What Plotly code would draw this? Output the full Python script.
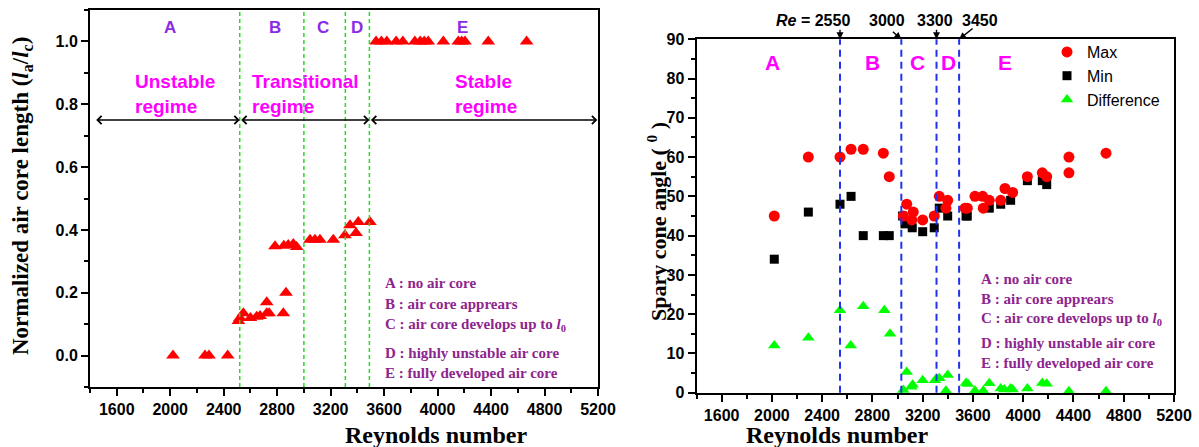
import plotly.graph_objects as go

# ---------------- Left chart data: normalized air core length ----------------
re_len = [2021, 2260, 2290, 2430,
          2510, 2522, 2547, 2600, 2647, 2672, 2722, 2722, 2740, 2846, 2866,
          2784, 2850, 2883, 2921, 2946,
          3046, 3083, 3120, 3220, 3307, 3345, 3390, 3407, 3494,
          3540, 3580, 3620, 3690, 3740, 3830, 3870, 3900, 3930, 4043, 4155, 4180, 4205, 4379, 4666]
len_ratio = [0.0, 0.0, 0.0, 0.0,
             0.11, 0.12, 0.135, 0.12, 0.124, 0.126, 0.135, 0.17, 0.135, 0.135, 0.20,
             0.348, 0.35, 0.352, 0.355, 0.346,
             0.369, 0.369, 0.369, 0.369, 0.383, 0.415, 0.39, 0.425, 0.425,
             1.0, 1.0, 1.0, 1.0, 1.0, 1.0, 1.0, 1.0, 1.0, 1.0, 1.0, 1.0, 1.0, 1.0, 1.0]
left_region_lines = [2520, 3000, 3310, 3490]
left_letters = ["A", "B", "C", "D", "E"]
left_letter_re = [1998, 2784, 3143, 3397, 4183]

# ---------------- Right chart data: spray cone angle ----------------
re_max = [2019, 2290, 2542, 2630, 2727, 2887, 2934, 3046, 3073, 3113, 3125, 3200, 3292,
          3332, 3385, 3399, 3537, 3555, 3616, 3677, 3682, 3730, 3821, 3855, 3916,
          4033, 4152, 4187, 4364, 4364, 4659]
ang_max = [45, 60, 60, 62, 62, 61, 55, 45, 48, 44, 46, 44, 45,
           50, 47, 49, 47, 47, 50, 50, 47, 49, 49, 52, 51,
           55, 56, 55, 60, 56, 61]
re_min = [2019, 2290, 2542, 2630, 2727, 2887, 2934, 3040, 3059, 3117, 3200, 3292,
          3332, 3399, 3545, 3555, 3730, 3821, 3900, 4033, 4152, 4187]
ang_min = [34, 46, 48, 50, 40, 40, 40, 45, 43, 42, 41, 42,
           47, 45, 45, 45, 47, 48, 49, 54, 54, 53]
re_diff = [2019, 2290, 2542, 2627, 2727, 2895, 2940, 3046, 3073, 3110, 3120, 3200, 3298,
           3332, 3385, 3399, 3545, 3560, 3616, 3682, 3730, 3821, 3850, 3900, 3916,
           4033, 4152, 4187, 4364, 4659]
ang_diff = [12, 14, 21, 12, 22, 21, 15, 0.7, 5.3, 1.5, 2.0, 3.2, 3.2,
            3.7, 0.5, 4.5, 2.5, 2.2, 0.5, 0.5, 2.4, 1.1, 0.8, 1.1, 0.8,
            1.1, 2.5, 2.3, 0.4, 0.4]
right_region_lines = [2542, 3030, 3310, 3490]
right_line_labels = ["<i>Re</i> = 2550", "3000", "3300", "3450"]
right_label_re = [2327, 2913, 3298, 3656]
right_letters = ["A", "B", "C", "D", "E"]
right_letter_re = [2008, 2804, 3160, 3404, 3855]

notes = ["A : no air core", "B : air core apprears",
         "C : air core develops up to <i>l</i><sub>0</sub>",
         "D : highly unstable air core", "E : fully developed air core"]

ARIAL = "Arial, Liberation Sans, sans-serif"
TIMES = "Times New Roman, Liberation Serif, serif"
W, H = 1199, 447

fig = go.Figure()
fig.add_trace(go.Scatter(x=re_len, y=len_ratio, mode="markers", xaxis="x", yaxis="y",
                         marker=dict(symbol="triangle-up", size=12, color="#FF0000"),
                         showlegend=False, cliponaxis=False))
fig.add_trace(go.Scatter(x=re_min, y=ang_min, mode="markers", xaxis="x2", yaxis="y2",
                         name="Min", legendrank=2,
                         marker=dict(symbol="square", size=9, color="#000000"), cliponaxis=False))
fig.add_trace(go.Scatter(x=re_max, y=ang_max, mode="markers", xaxis="x2", yaxis="y2",
                         name="Max", legendrank=1,
                         marker=dict(symbol="circle", size=11, color="#FF0000"), cliponaxis=False))
fig.add_trace(go.Scatter(x=re_diff, y=ang_diff, mode="markers", xaxis="x2", yaxis="y2",
                         name="Difference", legendrank=3,
                         marker=dict(symbol="triangle-up", size=11, color="#00FF00"), cliponaxis=False))

axis_common = dict(showline=True, linecolor="black", linewidth=2, mirror=True,
                   ticks="outside", ticklen=7, tickwidth=2, tickcolor="black",
                   showgrid=False, zeroline=False, automargin=False,
                   tickfont=dict(family=ARIAL, size=16, color="black", weight="bold"))

def px_x(p):
    return p / W

def px_y(p):
    return 1 - p / H

fig.update_layout(
    width=W, height=H, margin=dict(l=0, r=0, t=0, b=0, autoexpand=False),
    paper_bgcolor="white", plot_bgcolor="white",
    xaxis=dict(domain=[px_x(90), px_x(598)], range=[1400, 5200], dtick=400, anchor="y",
               minor=dict(dtick=200, ticks="outside", ticklen=4, tickwidth=2, tickcolor="black"),
               **axis_common),
    yaxis=dict(domain=[px_y(387), px_y(10)], range=[-0.1, 1.1], dtick=0.2, tick0=0,
               tickformat=".1f", anchor="x",
               minor=dict(dtick=0.1, ticks="outside", ticklen=4, tickwidth=2, tickcolor="black"),
               **axis_common),
    xaxis2=dict(domain=[px_x(696.5), px_x(1174)], range=[1400, 5200], dtick=400, anchor="y2",
                minor=dict(dtick=200, ticks="outside", ticklen=4, tickwidth=2, tickcolor="black"),
                **axis_common),
    yaxis2=dict(domain=[px_y(392.7), px_y(39.3)], range=[0, 90], dtick=10, anchor="x2",
                minor=dict(dtick=5, ticks="outside", ticklen=4, tickwidth=2, tickcolor="black"),
                **axis_common),
    legend=dict(x=px_x(1047), y=px_y(35), xanchor="left", yanchor="top",
                bgcolor="rgba(0,0,0,0)", font=dict(family=ARIAL, size=16, color="black"),
                tracegroupgap=0),
)

shapes = []
for r in left_region_lines:
    shapes.append(dict(type="line", xref="x", yref="y domain", x0=r, x1=r, y0=0, y1=1,
                       line=dict(color="#22DD22", width=1.5, dash="4px,3px")))
for r in right_region_lines:
    shapes.append(dict(type="line", xref="x2", yref="y2 domain", x0=r, x1=r, y0=0, y1=1,
                       line=dict(color="#2233EE", width=2, dash="7px,5px")))
fig.update_layout(shapes=shapes)

ann = []
# left: letters
for t, r in zip(left_letters, left_letter_re):
    ann.append(dict(x=r, y=1.043, xref="x", yref="y", text="<b>%s</b>" % t, showarrow=False,
                    font=dict(family=ARIAL, size=17, color="#8B2BE8")))
# left: regime labels
regimes = [("Unstable<br>regime", 1722), ("Transitional<br>regime", 2597), ("Stable<br>regime", 4118)]
for t, r in regimes:
    ann.append(dict(x=r, y=0.833, xref="x", yref="y", text="<b>%s</b>" % t, showarrow=False,
                    xanchor="left", yanchor="middle", align="left",
                    font=dict(family=ARIAL, size=19, color="#FF00FF")))
# left: double arrows
segs = [(1435, 2520), (2520, 3490), (3490, 5195)]
for a, b in segs:
    ann.append(dict(x=b, y=0.75, ax=a, ay=0.75, xref="x", yref="y", axref="x", ayref="y",
                    text="", showarrow=True, arrowside="end+start", arrowhead=4,
                    startarrowhead=4, arrowsize=1, startarrowsize=1, arrowwidth=1.6,
                    arrowcolor="black"))
# left: notes
left_note_y = [0.232, 0.164, 0.097, 0.0095, -0.054]
for t, yv in zip(notes, left_note_y):
    ann.append(dict(x=3592, y=yv, xref="x", yref="y", text="<b>%s</b>" % t, showarrow=False,
                    xanchor="left", yanchor="middle",
                    font=dict(family=TIMES, size=15, color="#8E248E")))
# right: letters
for t, r in zip(right_letters, right_letter_re):
    ann.append(dict(x=r, y=84.2, xref="x2", yref="y2", text="<b>%s</b>" % t, showarrow=False,
                    font=dict(family=ARIAL, size=21, color="#FF00FF")))
# right: notes
right_note_y = [28.95, 23.9, 18.85, 12.65, 7.56]
for t, yv in zip(notes, right_note_y):
    ann.append(dict(x=3648, y=yv, xref="x2", yref="y2", text="<b>%s</b>" % t, showarrow=False,
                    xanchor="left", yanchor="middle",
                    font=dict(family=TIMES, size=15, color="#8E248E")))
# right: Re labels above the top axis
for t, r in zip(right_line_labels, right_label_re):
    ann.append(dict(x=r, y=px_y(20), xref="x2", yref="paper", text="<b>%s</b>" % t,
                    showarrow=False, yanchor="middle",
                    font=dict(family=ARIAL, size=16, color="black")))
arrow_offsets = [(0, -11), (-10, -9), (0, -11), (15, -12)]
for r, (dx, dy) in zip(right_region_lines, arrow_offsets):
    ann.append(dict(x=r, y=90, xref="x2", yref="y2", ax=dx, ay=dy, text="", showarrow=True,
                    arrowhead=2, arrowsize=1, arrowwidth=1.4, arrowcolor="black"))
# axis titles
ann.append(dict(x=px_x(343), y=px_y(435), xref="paper", yref="paper", yanchor="middle",
                text="<b>Reynolds number</b>", showarrow=False,
                font=dict(family=TIMES, size=24, color="black")))
ann.append(dict(x=px_x(930), y=px_y(435), xref="paper", yref="paper", yanchor="middle",
                text="<b>Reynolds number</b>", showarrow=False,
                font=dict(family=TIMES, size=24, color="black")))
ann.append(dict(x=px_x(22), y=px_y(196), xref="paper", yref="paper", textangle=-90,
                xanchor="center", yanchor="middle",
                text="<b>Normalized air core length (<i>l</i><sub>a</sub>/<i>l</i><sub>c</sub>)</b>",
                showarrow=False, font=dict(family=TIMES, size=23, color="black")))
ann.append(dict(x=px_x(657), y=px_y(222), xref="paper", yref="paper", textangle=-90,
                xanchor="center", yanchor="middle",
                text="<b>Spary cone angle ( <sup>0</sup> )</b>",
                showarrow=False, font=dict(family=TIMES, size=22, color="black")))
fig.update_layout(annotations=ann)

fig.write_html("out.html")
